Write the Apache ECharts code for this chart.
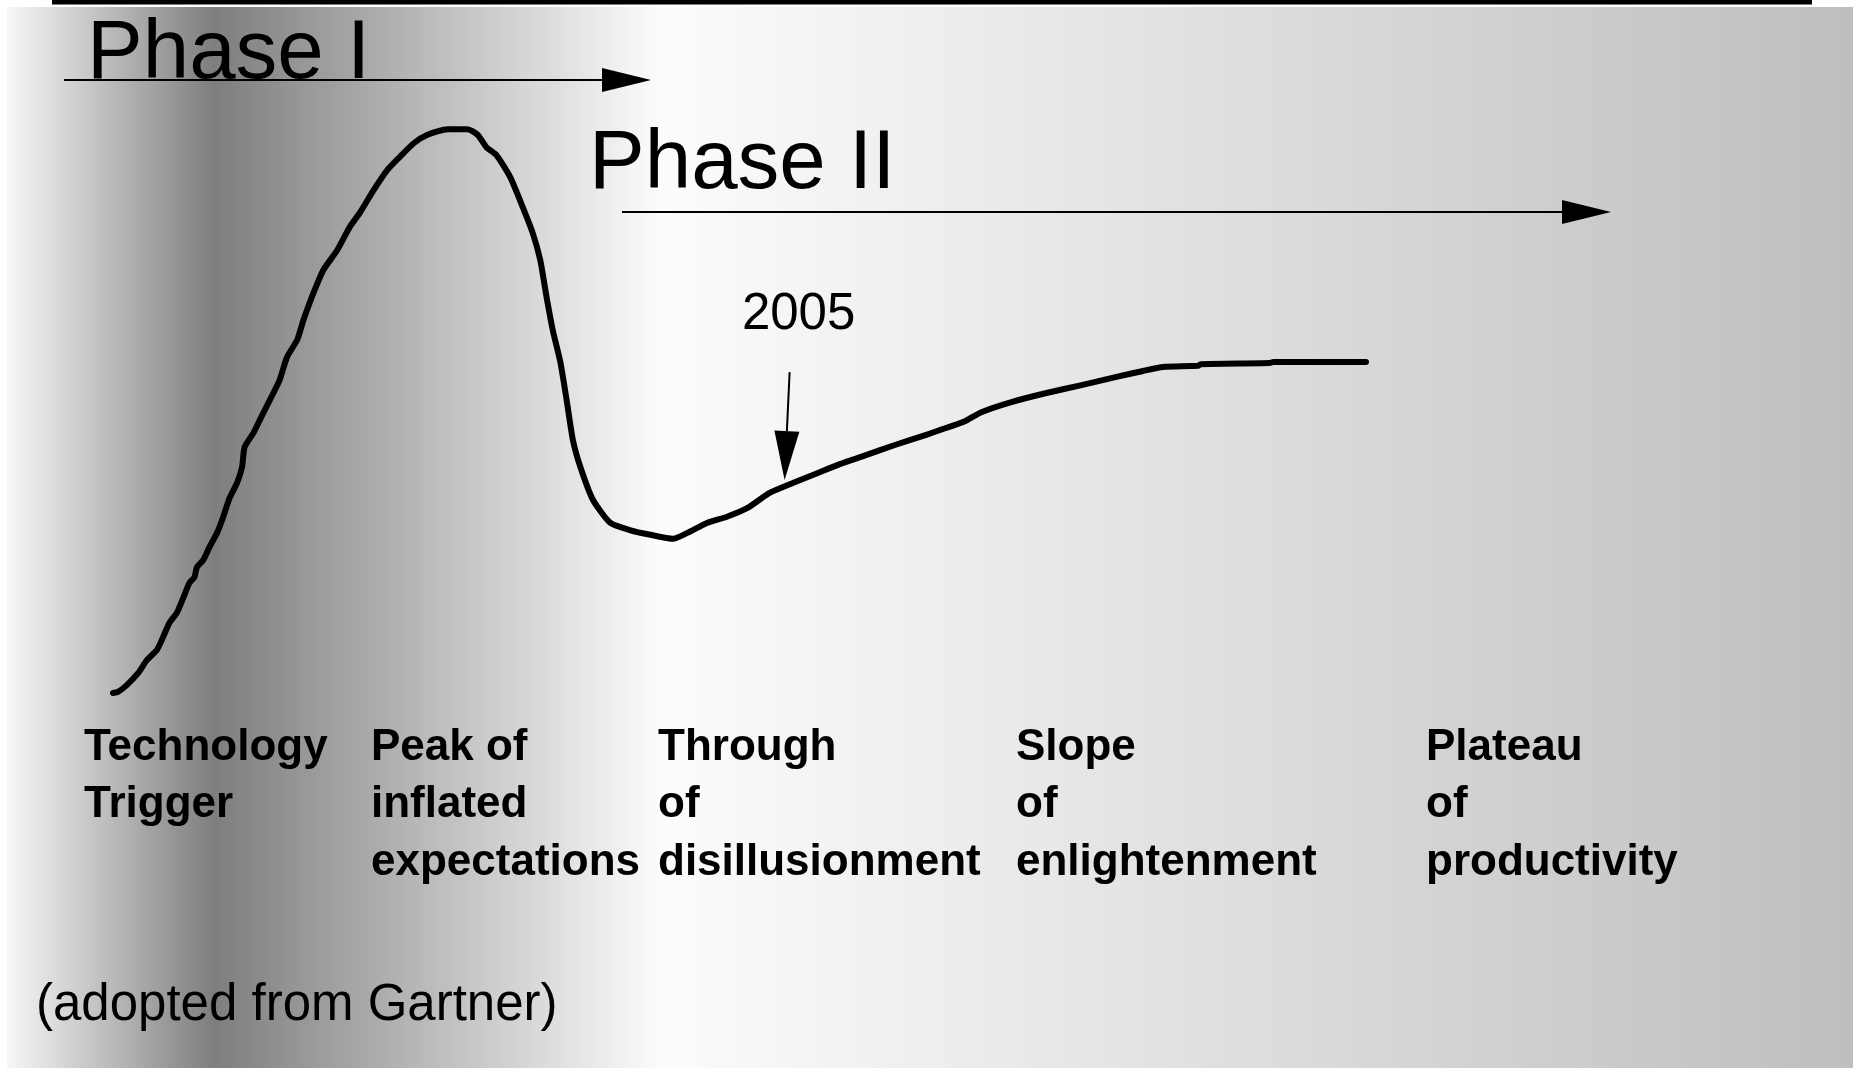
<!DOCTYPE html>
<html>
<head>
<meta charset="utf-8">
<title>Hype cycle (adopted from Gartner)</title>
<script src="https://cdn.jsdelivr.net/npm/echarts@6/dist/echarts.min.js"></script>
<style>
  html, body { margin: 0; padding: 0; background: #fff; }
  #chart { width: 1858px; height: 1068px; }
</style>
</head>
<body>
<div id="chart"></div>
<script>
// ---- data ----
// time: 0 = technology trigger, 100 = end of the plateau line
const hypeTime = [
  0, 0.4, 1.1, 2.0, 2.7, 3.5, 4.0, 4.5, 5.1, 5.6, 6.1, 6.5, 6.7, 7.2, 7.7, 8.3, 8.8, 9.3, 9.9, 10.3,
  10.5, 11.2, 11.8, 12.8, 13.3, 13.9, 14.7, 15.2, 16.0, 16.8, 17.9, 18.9, 19.7, 20.8, 21.9, 22.9,
  24.0, 25.1, 26.7, 28.3, 29.1, 29.8, 30.6, 31.7, 32.7, 33.5, 34.1, 34.6, 35.1, 35.7, 36.2, 36.7,
  37.3, 38.3, 39.7, 41.3, 42.9, 44.7, 45.8, 47.4, 49.0, 50.6, 52.4, 54.3, 56.2, 58.0, 59.7, 62.4,
  64.9, 66.2, 67.9, 69.3, 71.7, 74.5, 77.3, 80.0, 82.2, 83.8, 86.6, 86.8, 92.3, 92.6, 100
]
// visibility: 0 = start of the curve, 100 = top of the peak
const hypeVisibility = [
  0, 0.2, 1.4, 3.5, 5.8, 7.6, 9.9, 12.4, 14.2, 16.8, 19.5, 20.5, 22.3, 23.5, 25.8, 28.3, 31.2, 34.5, 37.2, 40.0,
  43.5, 46.0, 48.7, 53.1, 55.4, 59.5, 62.5, 66.0, 70.8, 74.9, 78.4, 82.5, 85.0, 89.0, 92.6, 94.9,
  97.3, 98.8, 99.8, 99.8, 98.8, 96.6, 95.2, 91.3, 86.0, 81.4, 76.6, 70.1, 64.2, 58.6, 51.9, 44.8,
  40.0, 34.2, 30.1, 28.8, 28.0, 27.3, 28.3, 30.1, 31.2, 32.7, 35.4, 37.2, 38.9, 40.5, 41.8, 43.9,
  45.7, 46.7, 48.0, 49.7, 51.5, 53.1, 54.5, 55.9, 57.0, 57.7, 57.9, 58.2, 58.4, 58.6, 58.6
]

const stageLabels = [
  'Technology\nTrigger',
  'Peak of\ninflated\nexpectations',
  'Through\nof\ndisillusionment',
  'Slope\nof\nenlightenment',
  'Plateau\nof\nproductivity'
]
const phaseLabels = ['Phase I', 'Phase II']
const markerLabel = '2005'
const markerFrom = [54.0, 56.8] // arrow tail (time, visibility)
const markerTo = [53.6, 37.7]   // arrow tip, on the curve
const sourceNote = '(adopted from Gartner)'

// ---- layout ----
const FONT = '"Liberation Sans", Arial, Helvetica, sans-serif'
const stageX = [84, 371, 658, 1016, 1426] // left edge of each stage label

const chart = echarts.init(document.getElementById('chart'), null, { renderer: 'canvas' })

chart.setOption({
  animation: false,
  backgroundColor: '#ffffff',
  grid: { left: 113, top: 128, width: 1253, height: 565 },
  xAxis: { type: 'value', min: 0, max: 100, show: false },
  yAxis: { type: 'value', min: 0, max: 100, show: false },
  series: [{
    type: 'line',
    data: hypeTime.map((t, i) => [t, hypeVisibility[i]]),
    showSymbol: false,
    smooth: 0.2,
    z: 3,
    lineStyle: { color: '#000', width: 6, cap: 'round', join: 'round' }
  }]
})

// arrow helper: shaft + filled triangle head ending at the tip
function arrow(x1, y1, x2, y2, headLen, headHalf, width) {
  const len = Math.hypot(x2 - x1, y2 - y1)
  const ux = (x2 - x1) / len, uy = (y2 - y1) / len
  const bx = x2 - ux * headLen, by = y2 - uy * headLen
  return [
    { type: 'line', z: 6, shape: { x1, y1, x2: bx, y2: by }, style: { stroke: '#000', lineWidth: width } },
    {
      type: 'polygon', z: 6,
      shape: { points: [[x2, y2], [bx - uy * headHalf, by + ux * headHalf], [bx + uy * headHalf, by - ux * headHalf]] },
      style: { fill: '#000' }
    }
  ]
}

function text(str, x, y, size, weight, align) {
  align = align || 'left'
  return {
    type: 'text', z: 6, x, y,
    style: {
      text: str, fill: '#000',
      font: `${weight} ${size}px ${FONT}`,
      align, verticalAlign: 'middle',
      textAlign: align, textVerticalAlign: 'middle'
    }
  }
}

// 2005 arrow goes through the chart's own scales
const p0 = chart.convertToPixel({ gridIndex: 0 }, markerFrom)
const p1 = chart.convertToPixel({ gridIndex: 0 }, markerTo)

const graphic = [
  // slide background: light -> dark band -> white -> grey
  {
    type: 'rect', z: -10, silent: true,
    shape: { x: 7, y: 7, width: 1846, height: 1061 },
    style: {
      fill: {
        type: 'linear', x: 0, y: 0, x2: 1, y2: 0,
        colorStops: [
          { offset: 0, color: '#f7f7f7' },
          { offset: 0.112, color: '#7e7e7e' },
          { offset: 0.354, color: '#fcfcfc' },
          { offset: 1, color: '#bebebe' }
        ]
      }
    }
  },
  // black rule at the top
  { type: 'rect', z: 6, shape: { x: 52, y: 0, width: 1760, height: 4.5 }, style: { fill: '#000' } },

  text(phaseLabels[0], 87, 54.5, 83.5, 'normal'),
  ...arrow(64, 80, 651, 80, 49, 12, 2),
  text(phaseLabels[1], 589, 165, 83.5, 'normal'),
  ...arrow(622, 212, 1611, 212, 49, 12, 2),

  text(markerLabel, p0[0] + 9, p0[1] - 57, 51, 'normal', 'center'),
  ...arrow(p0[0], p0[1], p1[0], p1[1], 49, 12.5, 2),

  text(sourceNote, 36, 1006, 51, 'normal')
]

stageLabels.forEach((label, i) => {
  graphic.push({
    type: 'text', z: 6, x: stageX[i], y: 719,
    style: {
      text: label, fill: '#000',
      font: `bold 44px ${FONT}`,
      lineHeight: 57.5,
      align: 'left', verticalAlign: 'top',
      textAlign: 'left', textVerticalAlign: 'top'
    }
  })
})

chart.setOption({ graphic })
</script>
</body>
</html>
